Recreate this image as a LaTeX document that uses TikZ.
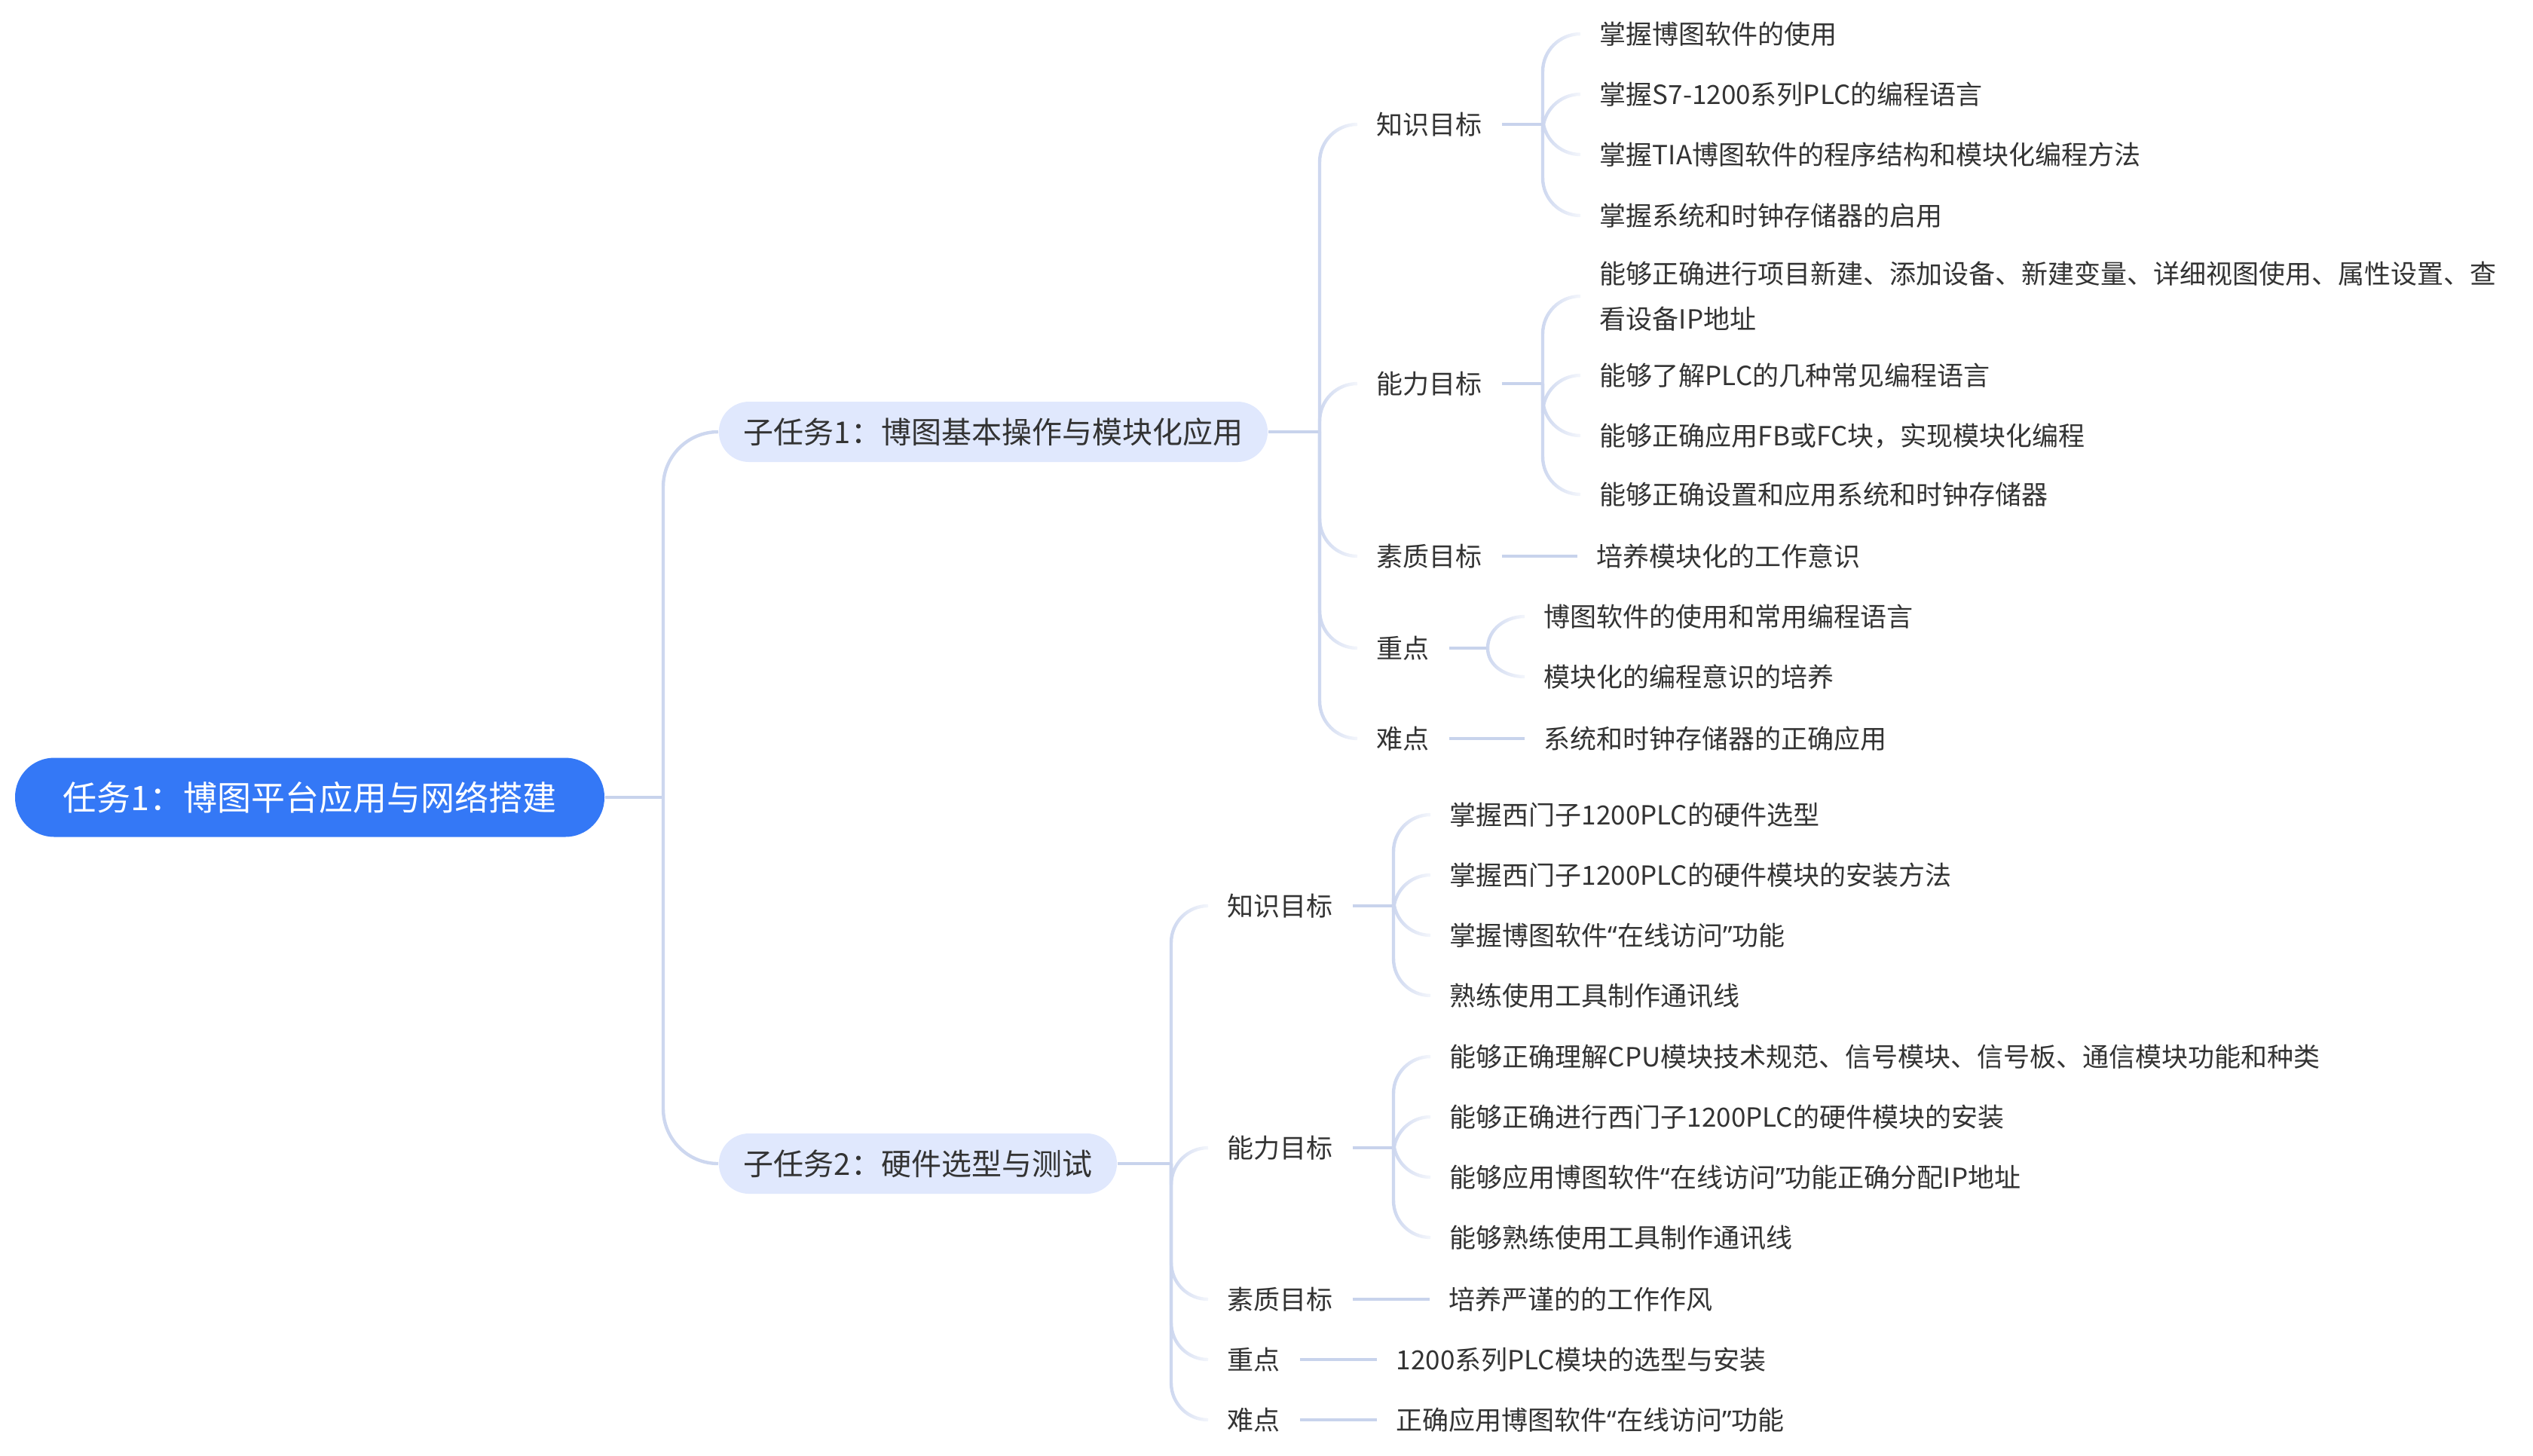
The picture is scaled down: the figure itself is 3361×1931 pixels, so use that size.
\documentclass[tikz,border=0pt]{standalone}
\usepackage{fontspec}
\setmainfont{Noto Sans CJK SC}
\newfontfamily\quotefont{Noto Sans}
\usepackage{tikz}
\usetikzlibrary{fadings}
\usepackage{xcolor}

\definecolor{taskblue}{HTML}{3478F6}
\definecolor{subfill}{HTML}{E0E8FD}
\definecolor{linkgray}{HTML}{CDD7EF}
\definecolor{stubgray}{HTML}{C8D3EC}
\definecolor{textgray}{HTML}{333333}

\newcommand{\openq}{{\quotefont “}}
\newcommand{\closeq}{{\quotefont ”}}

\tikzfading[name=branch fade, left color=transparent!0, right color=transparent!80]

\tikzset{
  taskbox/.style={fill=taskblue, text=white, inner sep=0pt,
    minimum width=195.5pt, minimum height=26.25pt, rounded corners=13pt,
    font=\fontsize{11.25pt}{13pt}\selectfont, text height=9.9pt, text depth=1.35pt},
  subbox/.style={anchor=west, fill=subfill, text=textgray, inner xsep=8.25pt, inner ysep=0pt,
    minimum height=20pt, rounded corners=10pt,
    font=\fontsize{10pt}{12pt}\selectfont, text height=8.8pt, text depth=1.2pt},
  goal/.style={anchor=west, text=textgray, inner xsep=6.25pt, inner ysep=0pt,
    font=\fontsize{8.75pt}{10.5pt}\selectfont, text height=7.7pt, text depth=1.05pt},
  item/.style={goal},
  link/.style={draw=linkgray, line width=1.1pt},
  stub/.style={draw=stubgray, line width=1.2pt},
  branch/.style={link, path fading=branch fade},
  bendup/.style={out=180, in=90},
  benddown/.style={out=180, in=-90}
}

\begin{document}
\begin{tikzpicture}[x=0.25pt, y=0.25pt]
\useasboundingbox (0,0) rectangle (3361,-1931);

\node[taskbox] (task) at (411,-1058){任务1：博图平台应用与网络搭建};

\node[subbox] (sub_1) at (953,-573){子任务1：博图基本操作与模块化应用};
\node[subbox] (sub_2) at (953,-1544){子任务2：硬件选型与测试};

\coordinate (task_v) at (880,-1058);
\draw[stub] (task.east)--(task_v);
\draw[link] (sub_1.west) to[bendup] ++(-73,-73) -- (task_v);
\draw[link] (sub_2.west) to[benddown] ++(-73,73) -- (task_v);

% subtask 1
\node[goal] (know_1) at (1801,-165){知识目标};
\node[goal] (abil_1) at (1801,-509){能力目标};
\node[goal] (qual_1) at (1801,-738){素质目标};
\node[goal] (key_1) at (1801,-860){重点};
\node[goal] (diff_1) at (1801,-980){难点};

\coordinate (sub_1v) at (1751,-573);
\draw[stub] (sub_1.east)--(sub_1v);
\draw[branch] (know_1.west) to[bendup] ++(-50,-50) -- (sub_1v);
\draw[branch] (abil_1.west) to[bendup] ++(-50,-50) -- (sub_1v);
\draw[branch] (qual_1.west) to[benddown] ++(-50,50) -- (sub_1v);
\draw[branch] (key_1.west) to[benddown] ++(-50,50) -- (sub_1v);
\draw[branch] (diff_1.west) to[benddown] ++(-50,50) -- (sub_1v);

\node[item] (know_1a) at (2097,-45){掌握博图软件的使用};
\node[item] (know_1b) at (2097,-125){掌握S7-1200系列PLC的编程语言};
\node[item] (know_1c) at (2097,-205){掌握TIA博图软件的程序结构和模块化编程方法};
\node[item] (know_1d) at (2097,-286){掌握系统和时钟存储器的启用};

\coordinate (know_1v) at (2047,-165);
\draw[stub] (know_1.east)--(know_1v);
\draw[branch] (know_1a.west) to[bendup] ++(-50,-50) -- (know_1v);
\draw[branch] (know_1b.west) to[bendup] ++(-50,-50) -- (know_1v);
\draw[branch] (know_1c.west) to[benddown] ++(-50,50) -- (know_1v);
\draw[branch] (know_1d.west) to[benddown] ++(-50,50) -- (know_1v);

\node[anchor=west, text=textgray, inner xsep=6.25pt, inner ysep=0pt, align=left,
  font=\fontsize{8.75pt}{14.9pt}\selectfont] (abil_1a) at (2097,-393)
  {能够正确进行项目新建、添加设备、新建变量、详细视图使用、属性设置、查\\看设备IP地址};
\node[item] (abil_1b) at (2097,-498){能够了解PLC的几种常见编程语言};
\node[item] (abil_1c) at (2097,-578){能够正确应用FB或FC块，实现模块化编程};
\node[item] (abil_1d) at (2097,-656){能够正确设置和应用系统和时钟存储器};

\coordinate (abil_1v) at (2047,-509);
\draw[stub] (abil_1.east)--(abil_1v);
\draw[branch] (abil_1a.west) to[bendup] ++(-50,-50) -- (abil_1v);
\draw[branch] (abil_1b.west) to[bendup] ++(-50,-50) -- (abil_1v);
\draw[branch] (abil_1c.west) to[benddown] ++(-50,50) -- (abil_1v);
\draw[branch] (abil_1d.west) to[benddown] ++(-50,50) -- (abil_1v);

\node[item] (qual_1a) at (2093,-738){培养模块化的工作意识};
\draw[stub] (qual_1.east)--(qual_1a.west);

\node[item] (key_1a) at (2023,-818){博图软件的使用和常用编程语言};
\node[item] (key_1b) at (2023,-898){模块化的编程意识的培养};

\coordinate (key_1v) at (1974,-860);
\draw[stub] (key_1.east)--(key_1v);
\draw[branch] (key_1a.west) to[bendup] ++(-49,-42) -- (key_1v);
\draw[branch] (key_1b.west) to[benddown] ++(-49,38) -- (key_1v);

\node[item] (diff_1a) at (2023,-980){系统和时钟存储器的正确应用};
\draw[stub] (diff_1.east)--(diff_1a.west);

% subtask 2
\node[goal] (know_2) at (1603,-1202){知识目标};
\node[goal] (abil_2) at (1603,-1523){能力目标};
\node[goal] (qual_2) at (1603,-1724){素质目标};
\node[goal] (key_2) at (1603,-1804){重点};
\node[goal] (diff_2) at (1603,-1884){难点};

\coordinate (sub_2v) at (1554,-1544);
\draw[stub] (sub_2.east)--(sub_2v);
\draw[branch] (know_2.west) to[bendup] ++(-49,-49) -- (sub_2v);
\draw[branch] (abil_2.west) to[bendup] ++(-49,-49) -- (sub_2v);
\draw[branch] (qual_2.west) to[benddown] ++(-49,49) -- (sub_2v);
\draw[branch] (key_2.west) to[benddown] ++(-49,49) -- (sub_2v);
\draw[branch] (diff_2.west) to[benddown] ++(-49,49) -- (sub_2v);

\node[item] (know_2a) at (1898,-1081){掌握西门子1200PLC的硬件选型};
\node[item] (know_2b) at (1898,-1161){掌握西门子1200PLC的硬件模块的安装方法};
\node[item] (know_2c) at (1898,-1241){掌握博图软件\openq 在线访问\closeq 功能};
\node[item] (know_2d) at (1898,-1321){熟练使用工具制作通讯线};

\coordinate (know_2v) at (1849,-1202);
\draw[stub] (know_2.east)--(know_2v);
\draw[branch] (know_2a.west) to[bendup] ++(-49,-49) -- (know_2v);
\draw[branch] (know_2b.west) to[bendup] ++(-49,-49) -- (know_2v);
\draw[branch] (know_2c.west) to[benddown] ++(-49,49) -- (know_2v);
\draw[branch] (know_2d.west) to[benddown] ++(-49,49) -- (know_2v);

\node[item] (abil_2a) at (1898,-1402){能够正确理解CPU模块技术规范、信号模块、信号板、通信模块功能和种类};
\node[item] (abil_2b) at (1898,-1482){能够正确进行西门子1200PLC的硬件模块的安装};
\node[item] (abil_2c) at (1898,-1562){能够应用博图软件\openq 在线访问\closeq 功能正确分配IP地址};
\node[item] (abil_2d) at (1898,-1642){能够熟练使用工具制作通讯线};

\coordinate (abil_2v) at (1849,-1523);
\draw[stub] (abil_2.east)--(abil_2v);
\draw[branch] (abil_2a.west) to[bendup] ++(-49,-49) -- (abil_2v);
\draw[branch] (abil_2b.west) to[bendup] ++(-49,-49) -- (abil_2v);
\draw[branch] (abil_2c.west) to[benddown] ++(-49,49) -- (abil_2v);
\draw[branch] (abil_2d.west) to[benddown] ++(-49,49) -- (abil_2v);

\node[item] (qual_2a) at (1897,-1724){培养严谨的的工作作风};
\draw[stub] (qual_2.east)--(qual_2a.west);

\node[item] (key_2a) at (1827,-1804){1200系列PLC模块的选型与安装};
\draw[stub] (key_2.east)--(key_2a.west);

\node[item] (diff_2a) at (1827,-1884){正确应用博图软件\openq 在线访问\closeq 功能};
\draw[stub] (diff_2.east)--(diff_2a.west);
\end{tikzpicture}
\end{document}
